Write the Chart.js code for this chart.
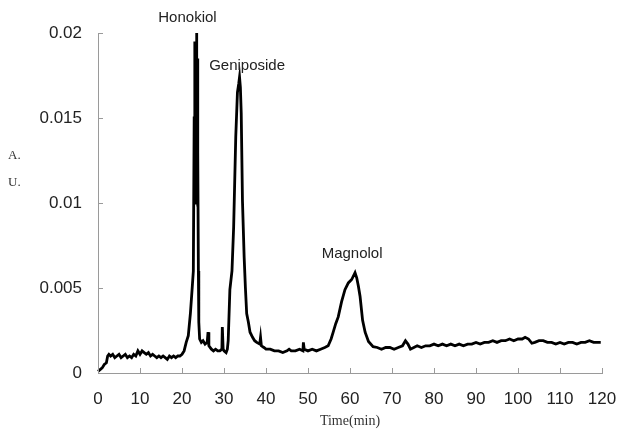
<!DOCTYPE html>
<html>
<head>
<meta charset="utf-8">
<script src="https://cdn.jsdelivr.net/npm/chart.js@4/dist/chart.umd.min.js"></script>
<style>
  html, body { margin: 0; padding: 0; background: #fff; }
  #wrap { width: 618px; height: 431px; position: relative; }
</style>
</head>
<body>
<div id="wrap"><canvas id="c" width="618" height="431"></canvas></div>
<script>
// Retention time (min)
const timeMin = [
  0, 0.5, 1.0, 1.5, 2.0, 2.3, 2.6, 3.0, 3.5, 4.0, 4.5, 5.0, 5.5, 6.0, 6.5, 7.0, 7.5, 8.0, 8.5, 9.0, 9.5,
  10.0, 10.5, 11.0, 11.5, 12.0, 12.5, 13.0, 13.5, 14.0, 14.5, 15.0, 15.5, 16.0, 16.5, 17.0, 17.5, 18.0, 18.5, 19.0, 19.5,
  20.0, 20.5, 21.0, 21.5, 22.0, 22.4, 22.7, 22.9, 23.05, 23.15, 23.25, 23.35, 23.45, 23.55, 23.62, 23.7, 23.8, 23.9, 24.0, 24.2,
  24.6, 25.0, 25.5, 26.0, 26.2, 26.4, 27.0, 27.5, 28.0, 28.5, 29.0, 29.5, 29.6, 29.8, 30.0, 30.5, 30.8,
  31.0, 31.4, 31.9, 32.3, 32.8, 33.2, 33.5, 33.7, 33.9, 34.1, 34.4, 34.8, 35.1, 35.4, 35.8, 36.2, 36.8, 37.3, 37.8,
  38.5, 38.7, 38.9, 39.5, 40.0, 41.0, 42.0, 43.0, 44.0, 45.0, 45.5, 46.0, 47.0, 48.0, 48.8, 48.9, 49.1,
  50.0, 51.0, 52.0, 53.0, 54.0, 54.8, 55.5, 56.0, 56.6, 57.2, 58.0, 58.8, 59.6, 60.4, 61.2, 61.6, 62.0, 62.4, 63.0, 63.6, 64.4,
  65.5, 66.5, 67.5, 68.5, 69.5, 70.5, 71.5, 72.5, 73.2, 73.8, 74.4, 75.2, 76.0, 77.0, 78.0, 79.0,
  80.0, 81.0, 82.0, 83.0, 84.0, 85.0, 86.0, 87.0, 88.0, 89.0, 90.0, 91.0, 92.0, 93.0, 94.0, 95.0, 96.0, 97.0, 98.0, 99.0,
  100.0, 101.0, 101.7, 102.5, 103.3, 104.0, 105.0, 106.0, 107.0, 108.0, 109.0, 110.0, 111.0, 112.0, 113.0, 114.0, 115.0,
  116.0, 117.0, 118.0, 119.0, 119.7
];
// Absorbance (A.U.)
const absorbance = [
  0.0001, 0.0002, 0.0003, 0.0005, 0.0006, 0.0010, 0.0011, 0.0010, 0.0011, 0.0009, 0.0010, 0.0011, 0.0009, 0.0010, 0.0011, 0.0009, 0.0010, 0.0009, 0.0011, 0.0010, 0.0013,
  0.0011, 0.0013, 0.0012, 0.0011, 0.0012, 0.0010, 0.0011, 0.0010, 0.0009, 0.0010, 0.0009, 0.0010, 0.0009, 0.0008, 0.0010, 0.0009, 0.0010, 0.0009, 0.0010, 0.0010,
  0.0011, 0.0013, 0.0018, 0.0022, 0.0035, 0.0049, 0.0060, 0.0150, 0.0195, 0.0100, 0.0188, 0.0120, 0.0200, 0.0110, 0.0185, 0.0098, 0.0130, 0.0060, 0.0030, 0.0020,
  0.0018, 0.0019, 0.0017, 0.0018, 0.0024, 0.0016, 0.0014, 0.0013, 0.0014, 0.0013, 0.0013, 0.0014, 0.0027, 0.0014, 0.0013, 0.0012, 0.0014,
  0.0019, 0.0049, 0.0060, 0.0086, 0.0139, 0.0165, 0.0170, 0.0174, 0.0168, 0.0153, 0.0101, 0.0068, 0.0050, 0.0035, 0.0030, 0.0024, 0.0021, 0.0019, 0.0018,
  0.0017, 0.0021, 0.0016, 0.0015, 0.0014, 0.0014, 0.0013, 0.0013, 0.0012, 0.0013, 0.0014, 0.0013, 0.0013, 0.0014, 0.0013, 0.0018, 0.0014,
  0.0013, 0.0014, 0.0013, 0.0014, 0.0015, 0.0016, 0.0020, 0.0024, 0.0029, 0.0033, 0.0042, 0.0049, 0.0053, 0.0055, 0.0059, 0.0056, 0.0051, 0.0045, 0.0031, 0.0024, 0.00185,
  0.00155, 0.0015, 0.0014, 0.0015, 0.0015, 0.0014, 0.0015, 0.0016, 0.0019, 0.0017, 0.0014, 0.0015, 0.0016, 0.0015, 0.0016, 0.0016,
  0.0017, 0.0016, 0.0017, 0.0016, 0.0017, 0.0016, 0.0017, 0.0016, 0.0017, 0.0017, 0.0018, 0.0017, 0.0018, 0.0018, 0.0019, 0.0018, 0.0019, 0.0019, 0.0020, 0.0019,
  0.0020, 0.0020, 0.0021, 0.0020, 0.00175, 0.0018, 0.0019, 0.0019, 0.0018, 0.0018, 0.0017, 0.0018, 0.0017, 0.0018, 0.0018, 0.0017, 0.0018,
  0.0018, 0.0019, 0.0018, 0.0018, 0.0018
];
// Axis ticks
const xTicks = [0, 10, 20, 30, 40, 50, 60, 70, 80, 90, 100, 110, 120];
const yTicks = [0, 0.005, 0.01, 0.015, 0.02];
// Peak labels
const peakNames = ["Honokiol", "Geniposide", "Magnolol"];
const peakX = [21.3, 35.5, 60.5];
const peakY = [0.0209, 0.01805, 0.0070];

const points = timeMin.map((t, i) => ({ x: t, y: absorbance[i] }));

const FONT = "'Liberation Sans', Arial, sans-serif";
const SERIF = "'Liberation Serif', 'Times New Roman', serif";

const extras = {
  id: 'extras',
  afterDraw(chart) {
    const ctx = chart.ctx;
    const xs = chart.scales.x, ys = chart.scales.y;
    const area = chart.chartArea;
    ctx.save();
    ctx.strokeStyle = '#9a9a9a';
    ctx.lineWidth = 1;
    // inward ticks
    xTicks.forEach(v => {
      const px = Math.round(xs.getPixelForValue(v)) + 0.5;
      ctx.beginPath(); ctx.moveTo(px, area.bottom); ctx.lineTo(px, area.bottom - 5); ctx.stroke();
    });
    yTicks.forEach(v => {
      const py = Math.round(ys.getPixelForValue(v)) + 0.5;
      ctx.beginPath(); ctx.moveTo(area.left, py); ctx.lineTo(area.left + 5, py); ctx.stroke();
    });
    // peak labels
    ctx.fillStyle = '#222';
    ctx.font = '15px ' + FONT;
    ctx.textAlign = 'center';
    ctx.textBaseline = 'middle';
    peakNames.forEach((n, i) => {
      ctx.fillText(n, xs.getPixelForValue(peakX[i]), ys.getPixelForValue(peakY[i]));
    });
    // axis titles
    ctx.font = '13px ' + SERIF;
    ctx.fillStyle = '#333';
    ctx.textAlign = 'left';
    ctx.fillText('A.', 8, 156);
    ctx.fillText('U.', 8, 183);
    ctx.textAlign = 'center';
    ctx.font = '14px ' + SERIF;
    ctx.fillText('Time(min)', (area.left + area.right) / 2, 421);
    ctx.restore();
  }
};

new Chart(document.getElementById('c'), {
  type: 'line',
  data: {
    datasets: [{
      data: points,
      borderColor: '#000',
      borderWidth: 2.8,
      pointRadius: 0,
      tension: 0,
      fill: false,
      clip: 4
    }]
  },
  options: {
    responsive: false,
    animation: false,
    events: [],
    layout: { padding: { top: 33, right: 16, left: 0, bottom: 0 } },
    plugins: { legend: { display: false }, tooltip: { enabled: false } },
    scales: {
      x: {
        type: 'linear',
        min: 0, max: 120,
        afterBuildTicks: s => { s.ticks = xTicks.map(v => ({ value: v })); },
        afterFit: s => { s.height = 58; s.paddingLeft = 0; s.paddingRight = 0; },
        grid: { display: false },
        border: { display: true, color: '#9a9a9a', width: 1 },
        ticks: { color: '#222', font: { family: FONT, size: 17 }, padding: 8, maxRotation: 0, autoSkip: false }
      },
      y: {
        type: 'linear',
        min: 0, max: 0.02,
        afterBuildTicks: s => { s.ticks = yTicks.map(v => ({ value: v })); },
        afterFit: s => { s.width = 98; s.paddingTop = 0; s.paddingBottom = 0; },
        grid: { display: false },
        border: { display: true, color: '#9a9a9a', width: 1 },
        ticks: {
          color: '#222', font: { family: FONT, size: 17 }, padding: 8,
          callback: v => String(+Number(v).toFixed(3))
        }
      }
    }
  },
  plugins: [extras]
});
</script>
</body>
</html>
